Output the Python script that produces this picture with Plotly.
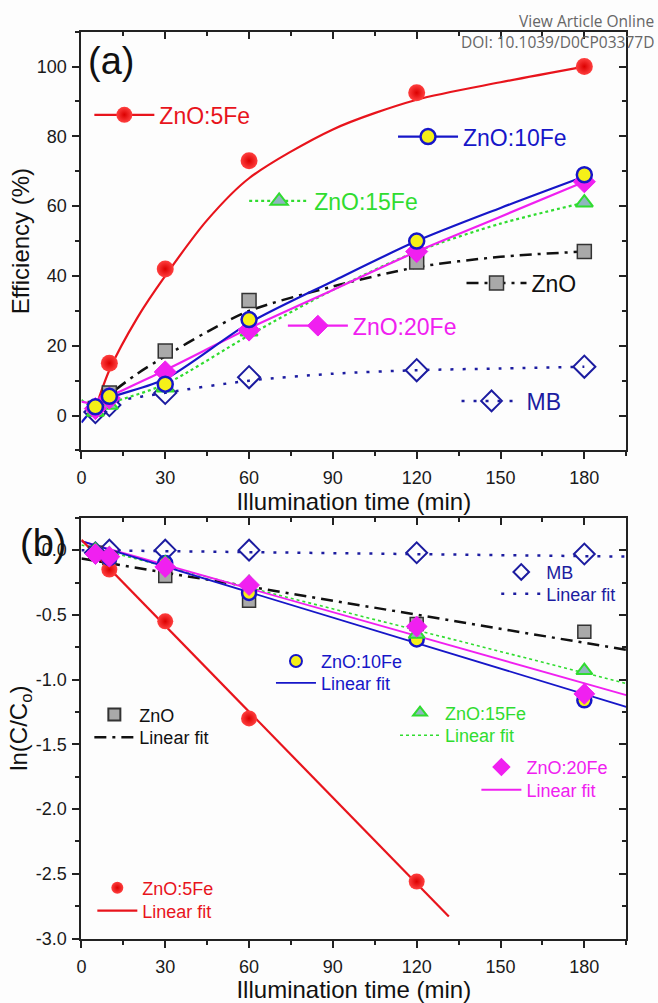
import plotly.graph_objects as go

W, H = 658, 1003
FONT = "Liberation Sans, Arial, sans-serif"

# ---------------- data ----------------
time_pts = [5, 10, 30, 60, 120, 180]

# panel (a): photocatalytic efficiency (%)
eff_zno = [2, 6.5, 18.5, 33, 44, 47]
eff_5fe = [2, 15, 42, 73, 92.5, 100]
eff_10fe = [2.5, 5.5, 9, 27.5, 50, 69]
eff_15fe = [1, 3, 8, 24, 48, 61]
eff_20fe = [2, 5, 12.5, 24.5, 47, 67]
eff_mb = [1, 3, 6.5, 11, 13, 14]

# panel (a): fitted curves
fit_a_5fe_t = [5, 10, 20, 30, 45, 60, 90, 120, 150, 180]
fit_a_5fe_y = [2, 13, 28, 40, 56, 68, 82, 90.5, 95.5, 100]
fit_a_zno_t = [5, 10, 20, 30, 45, 60, 90, 120, 150, 180]
fit_a_zno_y = [2.5, 6, 12, 17, 24, 30, 37, 42.5, 45.5, 47]
fit_a_10fe_t = [0, 5, 10, 30, 60, 90, 120, 150, 180]
fit_a_10fe_y = [-2, 2.5, 5, 10.5, 26.5, 38.5, 50, 59.5, 68.5]
fit_a_15fe_t = [0, 5, 10, 30, 60, 90, 120, 150, 180]
fit_a_15fe_y = [4.5, 2, 3.5, 9, 23, 36, 47, 55, 61]
fit_a_20fe_t = [0, 5, 10, 30, 60, 90, 120, 150, 180]
fit_a_20fe_y = [4, 3.5, 5.5, 13, 25, 36, 47, 57, 67]
fit_a_mb_t = [5, 10, 30, 60, 90, 120, 150, 180]
fit_a_mb_y = [1, 3.5, 6.5, 10, 12, 13, 13.5, 14]

# panel (b): ln(C/C0)
ln_zno = [-0.02, -0.06, -0.20, -0.39, -0.57, -0.63]
ln_5fe_t = [5, 10, 30, 60, 120]
ln_5fe = [-0.02, -0.15, -0.55, -1.30, -2.56]
ln_10fe = [-0.02, -0.06, -0.10, -0.33, -0.69, -1.16]
ln_15fe = [0.0, -0.03, -0.10, -0.25, -0.65, -0.93]
ln_20fe = [-0.03, -0.05, -0.13, -0.27, -0.59, -1.11]
ln_mb = [-0.02, 0.0, 0.0, 0.0, -0.02, -0.03]

# panel (b): linear fits (end points)
fit_b_t = [0, 195]
fit_b_zno = [-0.065, -0.77]
fit_b_10fe = [0.07, -1.21]
fit_b_15fe = [0.04, -1.03]
fit_b_20fe = [0.07, -1.12]
fit_b_mb = [0.0, -0.05]
fit_b_5fe_t = [0, 131.5]
fit_b_5fe = [0.08, -2.83]

x_ticks = [0, 30, 60, 90, 120, 150, 180]
x_ticktext = ["0", "30", "60", "90", "120", "150", "180"]
ya_ticks = [0, 20, 40, 60, 80, 100]
ya_ticktext = ["0", "20", "40", "60", "80", "100"]
yb_ticks = [0.0, -0.5, -1.0, -1.5, -2.0, -2.5, -3.0]
yb_ticktext = ["0.0", "-0.5", "-1.0", "-1.5", "-2.0", "-2.5", "-3.0"]

# ---------------- styles ----------------
RED = "#e8141c"
BLUE = "#1616c8"
GREEN = "#30dc30"
MAG = "#f020f0"
NAVY = "#1c1ca0"
BLACK = "#111111"

M_5FE = dict(symbol="circle", size=17, color="#ff4040",
             gradient=dict(type="radial", color="#dc0000"),
             line=dict(width=0))
M_ZNO = dict(symbol="square", size=14, color="#a9a9a9", line=dict(color="#333333", width=1.5))
M_10FE = dict(symbol="circle", size=15, color="#f5f018", line=dict(color=BLUE, width=2.5))
M_15FE = dict(symbol="triangle-up", size=15, color="#8fb5bf", line=dict(color=GREEN, width=2))
M_20FE = dict(symbol="diamond", size=17, color=MAG, line=dict(color=MAG, width=1))
M_MB = dict(symbol="diamond-open", size=17, color=NAVY, line=dict(color=NAVY, width=2))

L_5FE = dict(color=RED, width=2.2)
L_ZNO = dict(color=BLACK, width=2.5, dash="12px,6px,3px,6px")
L_10FE = dict(color=BLUE, width=2.2)
L_15FE = dict(color=GREEN, width=2.2, dash="dot")
L_20FE = dict(color=MAG, width=2.2)
L_MB = dict(color=NAVY, width=2.5, dash="3px,9px")

fig = go.Figure()

def px_x(v):
    return v / W

def px_y(v):
    return 1 - v / H

legends = {}

def add_legend(name, text_x, text_y, size, color, itemwidth, sizing):
    legends[name] = dict(
        x=px_x(text_x - itemwidth - 12), y=px_y(text_y),
        xanchor="left", yanchor="middle",
        bgcolor="rgba(0,0,0,0)", borderwidth=0,
        font=dict(family=FONT, size=size, color=color),
        itemwidth=itemwidth, itemsizing=sizing, tracegroupgap=0,
    )

# ---------------- panel (a) ----------------
fits_a = [
    (fit_a_mb_t, fit_a_mb_y, L_MB),
    (fit_a_zno_t, fit_a_zno_y, L_ZNO),
    (fit_a_15fe_t, fit_a_15fe_y, L_15FE),
    (fit_a_20fe_t, fit_a_20fe_y, L_20FE),
    (fit_a_10fe_t, fit_a_10fe_y, L_10FE),
    (fit_a_5fe_t, fit_a_5fe_y, L_5FE),
]
for t, y, ln in fits_a:
    fig.add_trace(go.Scatter(x=t, y=y, mode="lines", line=dict(shape="spline", smoothing=0.8, **ln),
                             showlegend=False, hoverinfo="skip", xaxis="x", yaxis="y"))

data_a = [
    (eff_5fe, M_5FE), (eff_mb, M_MB), (eff_zno, M_ZNO), (eff_15fe, M_15FE),
    (eff_20fe, M_20FE), (eff_10fe, M_10FE),
]
for y, mk in data_a:
    fig.add_trace(go.Scatter(x=time_pts, y=y, mode="markers", marker=mk,
                             showlegend=False, xaxis="x", yaxis="y"))

# legend proxies for panel (a) (line + marker keys)
legend_a = [
    ("ZnO:5Fe", L_5FE, M_5FE, RED, 157, 116),
    ("ZnO:10Fe", L_10FE, M_10FE, BLUE, 463, 138),
    ("ZnO:15Fe", L_15FE, M_15FE, GREEN, 313, 203),
    ("ZnO", L_ZNO, M_ZNO, BLACK, 532, 286),
    ("ZnO:20Fe", L_20FE, M_20FE, MAG, 352, 329),
    ("MB", L_MB, M_MB, NAVY, 527, 405),
]
lg_i = 1
for name, ln, mk, col, tx, ty in legend_a:
    lname = "legend" if lg_i == 1 else f"legend{lg_i}"
    fig.add_trace(go.Scatter(x=[None], y=[None], mode="lines+markers", name=name,
                             line=ln, marker=mk, legend=lname, xaxis="x", yaxis="y"))
    add_legend(lname, tx, ty, 23, col, 60, "trace")
    lg_i += 1

# ---------------- panel (b) ----------------
fits_b = [
    (fit_b_t, fit_b_mb, L_MB, "MB", NAVY, 547, 600),
    (fit_b_t, fit_b_zno, L_ZNO, "ZnO", BLACK, 137, 745),
    (fit_b_t, fit_b_15fe, dict(color=GREEN, width=1.6, dash="dot"), "15", GREEN, 445, 743),
    (fit_b_t, fit_b_20fe, dict(color=MAG, width=1.8), "20", MAG, 527, 798),
    (fit_b_t, fit_b_10fe, dict(color=BLUE, width=1.8), "10", BLUE, 320, 690),
    (fit_b_5fe_t, fit_b_5fe, dict(color=RED, width=2.2), "5", RED, 140, 920),
]
data_b = [
    (time_pts, ln_mb, dict(M_MB, size=16), "MB", NAVY, 547, 578),
    (time_pts, ln_zno, dict(M_ZNO, size=13), "ZnO", BLACK, 137, 722),
    (ln_5fe_t, ln_5fe, dict(M_5FE, size=16), "ZnO:5Fe", RED, 140, 897),
    (time_pts, ln_10fe, dict(M_10FE, size=14), "ZnO:10Fe", BLUE, 320, 668),
    (time_pts, ln_15fe, dict(M_15FE, size=14), "ZnO:15Fe", GREEN, 445, 720),
    (time_pts, ln_20fe, dict(M_20FE, size=16), "ZnO:20Fe", MAG, 527, 775),
]
for t, y, ln, _, col, tx, ty in fits_b:
    lname = f"legend{lg_i}"
    fig.add_trace(go.Scatter(x=t, y=y, mode="lines", line=ln, name="Linear fit",
                             legend=lname, hoverinfo="skip", xaxis="x2", yaxis="y2"))
    add_legend(lname, tx, ty, 18, col, 40, "trace")
    lg_i += 1
for t, y, mk, name, col, tx, ty in data_b:
    lname = f"legend{lg_i}"
    fig.add_trace(go.Scatter(x=t, y=y, mode="markers", marker=mk, name=name,
                             legend=lname, xaxis="x2", yaxis="y2"))
    add_legend(lname, tx, ty, 18, col, 40, "constant")
    lg_i += 1

# empty traces to activate the mirrored (inward-tick) axes
fig.add_trace(go.Scatter(x=[], y=[], xaxis="x3", yaxis="y3", showlegend=False, hoverinfo="skip"))
fig.add_trace(go.Scatter(x=[], y=[], xaxis="x4", yaxis="y4", showlegend=False, hoverinfo="skip"))

# ---------------- axes ----------------
XDOM = [77 / W, 626 / W]
YA_DOM = [1 - 455 / H, 1 - 32 / H]
YB_DOM = [1 - 948 / H, 1 - 523 / H]
XR = [0, 195]
YA_R = [-10, 110]
YB_R = [-3.0, 0.25]

tickfont = dict(family=FONT, size=18, color="#1a1a1a")
titlefont = dict(family=FONT, size=24, color="#111111")

def base_axis(**kw):
    d = dict(showline=True, linewidth=2, linecolor="#222222", showgrid=False, zeroline=False,
             ticks="outside", ticklen=7, tickwidth=2, tickcolor="#222222", tickfont=tickfont,
             mirror=True)
    d.update(kw)
    return d

def inner_axis(**kw):
    d = dict(showline=False, showgrid=False, zeroline=False, ticks="inside", ticklen=7,
             tickwidth=2, tickcolor="#222222", showticklabels=False)
    d.update(kw)
    return d

minor_x = dict(ticks="outside", ticklen=4, tickwidth=2, tickcolor="#222222", dtick=15, tick0=0)
minor_x_in = dict(ticks="inside", ticklen=4, tickwidth=2, tickcolor="#222222", dtick=15, tick0=0)

fig.update_layout(
    width=W, height=H, margin=dict(l=0, r=0, t=0, b=0),
    paper_bgcolor="#fdfdfd", plot_bgcolor="#fdfdfd",
    font=dict(family=FONT),
    xaxis=base_axis(domain=XDOM, range=XR, anchor="y", tickmode="array", tickvals=x_ticks,
                    ticktext=x_ticktext, minor=minor_x, ticklabelstandoff=3,
                    title=dict(text="Illumination time (min)", font=titlefont, standoff=3)),
    yaxis=base_axis(domain=YA_DOM, range=YA_R, anchor="x", tickmode="array", tickvals=ya_ticks,
                    ticktext=ya_ticktext, ticklabelstandoff=2,
                    minor=dict(ticks="outside", ticklen=4, tickwidth=2, tickcolor="#222222", dtick=10, tick0=0),
                    title=dict(text="Efficiency (%)", font=titlefont, standoff=0)),
    xaxis3=inner_axis(overlaying="x", side="top", anchor="y", range=XR, tickmode="array",
                      tickvals=x_ticks, minor=minor_x_in),
    yaxis3=inner_axis(overlaying="y", side="right", anchor="x", range=YA_R, tickmode="array",
                      tickvals=ya_ticks,
                      minor=dict(ticks="inside", ticklen=4, tickwidth=2, tickcolor="#222222", dtick=10, tick0=0)),
    xaxis2=base_axis(domain=XDOM, range=XR, anchor="y2", tickmode="array", tickvals=x_ticks,
                     ticktext=x_ticktext, minor=minor_x, ticklabelstandoff=4,
                     title=dict(text="Illumination time (min)", font=titlefont, standoff=3)),
    yaxis2=base_axis(domain=YB_DOM, range=YB_R, anchor="x2", tickmode="array", tickvals=yb_ticks,
                     ticktext=yb_ticktext, ticklabelstandoff=2,
                     minor=dict(ticks="outside", ticklen=4, tickwidth=2, tickcolor="#222222", dtick=0.25, tick0=0),
                     title=dict(text="ln(C/C<sub>o</sub>)", font=titlefont, standoff=0)),
    xaxis4=inner_axis(overlaying="x2", side="top", anchor="y2", range=XR, tickmode="array",
                      tickvals=x_ticks, minor=minor_x_in),
    yaxis4=inner_axis(overlaying="y2", side="right", anchor="x2", range=YB_R, tickmode="array",
                      tickvals=yb_ticks,
                      minor=dict(ticks="inside", ticklen=4, tickwidth=2, tickcolor="#222222", dtick=0.25, tick0=0)),
    annotations=[
        dict(text="(a)", xref="paper", yref="paper", x=px_x(82), y=px_y(62), xanchor="left",
             yanchor="middle", showarrow=False, font=dict(family=FONT, size=38, color="#111111")),
        dict(text="(b)", xref="paper", yref="paper", x=px_x(13), y=px_y(548), xanchor="left",
             yanchor="middle", showarrow=False, font=dict(family=FONT, size=38, color="#111111")),
        dict(text="View Article Online", xref="paper", yref="paper", x=px_x(656), y=px_y(21),
             xanchor="right", yanchor="middle", showarrow=False,
             font=dict(family="Open Sans, sans-serif", size=15.5, color="#666666")),
        dict(text="DOI: 10.1039/D0CP03377D", xref="paper", yref="paper", x=px_x(656), y=px_y(42),
             xanchor="right", yanchor="middle", showarrow=False,
             font=dict(family="Open Sans, sans-serif", size=15.5, color="#666666")),
    ],
)
fig.update_layout(**legends)

fig.write_html("out.html")
